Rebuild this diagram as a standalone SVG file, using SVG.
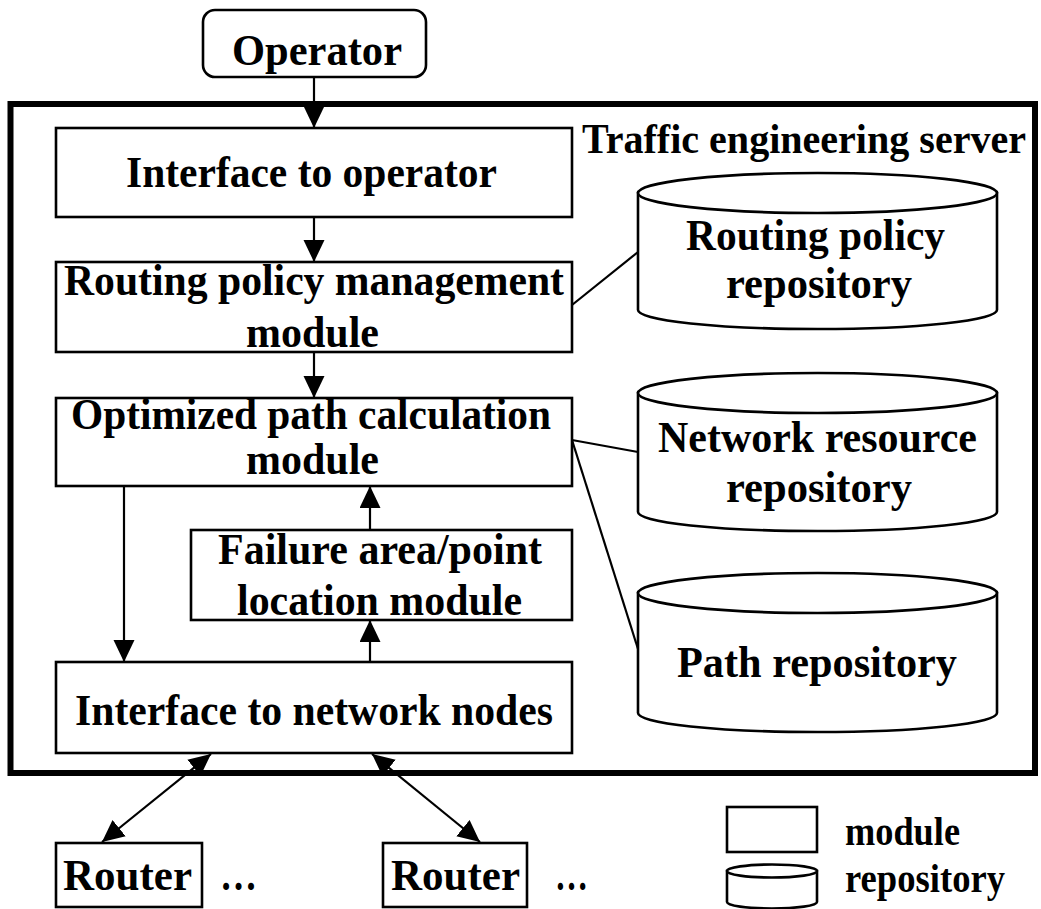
<svg xmlns="http://www.w3.org/2000/svg" width="1041" height="909" viewBox="0 0 1041 909">
  <style>
    .box { fill: #fff; stroke: #000; stroke-width: 2.6; }
    .frame { fill: none; stroke: #000; stroke-width: 6; }
    .line { fill: none; stroke: #000; stroke-width: 2.2; }
    .arrow { fill: none; stroke: #000; stroke-width: 2.2; marker-end: url(#head); }
    .both { fill: none; stroke: #000; stroke-width: 2.2; marker-start: url(#head); marker-end: url(#head); }
    text { font-family: "Liberation Serif", "Times New Roman", serif; font-weight: bold; fill: #000; }
    .t { font-size: 44px; text-anchor: middle; }
    .leg { font-size: 39px; }
  </style>
  <defs>
    <marker id="head" markerUnits="userSpaceOnUse" markerWidth="24" markerHeight="22" refX="22" refY="10.5" orient="auto-start-reverse">
      <path d="M0,0 L22,10.5 L0,21 Z" fill="#000"/>
    </marker>
  </defs>

  <!-- server enclosure -->
  <rect class="frame" x="10.5" y="104" width="1024.5" height="669"/>
  <text x="582" y="153" font-size="43" textLength="444" lengthAdjust="spacingAndGlyphs">Traffic engineering server</text>

  <!-- connectors -->
  <g id="connectors">
    <line class="arrow" x1="314" y1="77" x2="314" y2="128"/>
    <line class="arrow" x1="314" y1="217" x2="314" y2="262"/>
    <line class="arrow" x1="314" y1="352" x2="314" y2="398"/>
    <line class="arrow" x1="124" y1="486" x2="124" y2="662"/>
    <line class="arrow" x1="370" y1="530" x2="370" y2="486"/>
    <line class="arrow" x1="370" y1="662" x2="370" y2="620"/>
    <line class="both" x1="211" y1="754" x2="102" y2="842"/>
    <line class="both" x1="372" y1="754" x2="480" y2="842"/>
    <line class="line" x1="572" y1="305" x2="638" y2="252"/>
    <line class="line" x1="572" y1="440" x2="638" y2="452"/>
    <line class="line" x1="572" y1="440" x2="638" y2="649"/>
  </g>

  <g id="operator">
    <rect class="box" x="203" y="10" width="223" height="67" rx="12"/>
    <text class="t" x="317" y="65" textLength="170" lengthAdjust="spacingAndGlyphs">Operator</text>
  </g>

  <g id="interface-operator">
    <rect class="box" x="56" y="128" width="516" height="89"/>
    <text class="t" x="311.5" y="187" textLength="371" lengthAdjust="spacingAndGlyphs">Interface to operator</text>
  </g>

  <g id="routing-policy-module">
    <rect class="box" x="56" y="262" width="516" height="90"/>
    <text class="t" x="314" y="295" textLength="500" lengthAdjust="spacingAndGlyphs">Routing policy management</text>
    <text class="t" x="312.5" y="347" textLength="133" lengthAdjust="spacingAndGlyphs">module</text>
  </g>

  <g id="path-calculation-module">
    <rect class="box" x="56" y="398" width="516" height="88"/>
    <text class="t" x="311" y="429" textLength="480" lengthAdjust="spacingAndGlyphs">Optimized path calculation</text>
    <text class="t" x="312.5" y="474" textLength="133" lengthAdjust="spacingAndGlyphs">module</text>
  </g>

  <g id="failure-location-module">
    <rect class="box" x="191" y="530" width="381" height="90"/>
    <text class="t" x="380" y="564" textLength="324" lengthAdjust="spacingAndGlyphs">Failure area/point</text>
    <text class="t" x="379.5" y="615" textLength="285" lengthAdjust="spacingAndGlyphs">location module</text>
  </g>

  <g id="interface-network">
    <rect class="box" x="56" y="662" width="516" height="91"/>
    <text class="t" x="314" y="725" textLength="478" lengthAdjust="spacingAndGlyphs">Interface to network nodes</text>
  </g>

  <g id="routing-policy-repository">
    <path class="box" d="M638,193 V310 A179.5,19 0 0 0 997,310 V193 Z"/>
    <ellipse class="box" cx="817.5" cy="193" rx="179.5" ry="20"/>
    <text class="t" x="815.5" y="250" textLength="259" lengthAdjust="spacingAndGlyphs">Routing policy</text>
    <text class="t" x="819" y="298" textLength="186" lengthAdjust="spacingAndGlyphs">repository</text>
  </g>

  <g id="network-resource-repository">
    <path class="box" d="M638,393 V512 A179.5,19 0 0 0 997,512 V393 Z"/>
    <ellipse class="box" cx="817.5" cy="393" rx="179.5" ry="20"/>
    <text class="t" x="817.5" y="452" textLength="319" lengthAdjust="spacingAndGlyphs">Network resource</text>
    <text class="t" x="819" y="502" textLength="186" lengthAdjust="spacingAndGlyphs">repository</text>
  </g>

  <g id="path-repository">
    <path class="box" d="M638,593 V713 A179.5,19 0 0 0 997,713 V593 Z"/>
    <ellipse class="box" cx="817.5" cy="593" rx="179.5" ry="20"/>
    <text class="t" x="817" y="677" textLength="280" lengthAdjust="spacingAndGlyphs">Path repository</text>
  </g>

  <g id="router-1">
    <rect class="box" x="56" y="843" width="146" height="64"/>
    <text class="t" x="127.5" y="890" textLength="129" lengthAdjust="spacingAndGlyphs">Router</text>
  </g>
  <text class="t" x="238.5" y="890" textLength="37" lengthAdjust="spacingAndGlyphs">…</text>

  <g id="router-2">
    <rect class="box" x="383" y="843" width="144" height="64"/>
    <text class="t" x="455.5" y="890" textLength="129" lengthAdjust="spacingAndGlyphs">Router</text>
  </g>
  <text class="t" x="571.5" y="890" textLength="33" lengthAdjust="spacingAndGlyphs">…</text>

  <!-- legend -->
  <g id="legend">
    <rect class="box" x="727" y="807" width="90" height="45"/>
    <text class="leg" x="845" y="845" textLength="115" lengthAdjust="spacingAndGlyphs">module</text>
    <path class="box" d="M727,871 V902 A45,6.5 0 0 0 817,902 V871 Z"/>
    <ellipse class="box" cx="772" cy="871" rx="45" ry="6.5"/>
    <text class="leg" x="845" y="892" textLength="160" lengthAdjust="spacingAndGlyphs">repository</text>
  </g>
</svg>
